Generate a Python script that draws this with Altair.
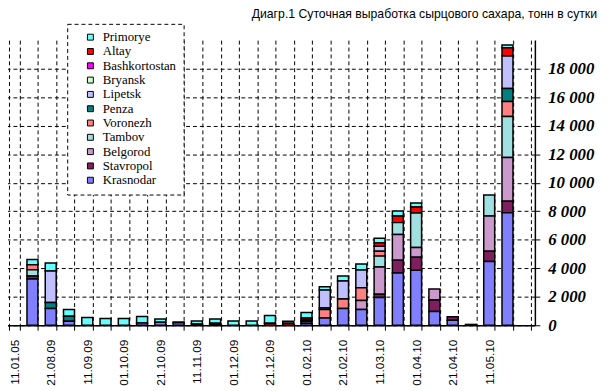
import json
import altair as alt
import pandas as pd

periods = ["11.01.05", "11.08.09", "21.08.09", "01.09.09", "11.09.09", "21.09.09",
           "01.10.09", "11.10.09", "21.10.09", "01.11.09", "11.11.09", "21.11.09",
           "01.12.09", "11.12.09", "21.12.09", "11.01.10", "01.02.10", "11.02.10",
           "21.02.10", "01.03.10", "11.03.10", "21.03.10", "01.04.10", "11.04.10",
           "21.04.10", "01.05.10", "11.05.10", "21.05.10", "01.06.10"]
shown_labels = ["11.01.05", "21.08.09", "11.09.09", "01.10.09", "21.10.09", "11.11.09",
                "01.12.09", "21.12.09", "01.02.10", "21.02.10", "11.03.10", "01.04.10",
                "21.04.10", "11.05.10"]

regions = ["Primorye", "Altay", "Bashkortostan", "Bryansk", "Lipetsk", "Penza",
           "Voronezh", "Tambov", "Belgorod", "Stavropol", "Krasnodar"]
colors = ["#66FFFF", "#FF0000", "#FF00FF", "#CCFFCC", "#C0C0FF", "#008080",
          "#FF8080", "#A0E0E0", "#CC99CC", "#7F1F5F", "#8080FF"]

#            0  1     2     3    4    5    6    7    8    9    10   11   12   13   14   15   16   17   18    19    20    21    22    23   24   25  26    27    28
krasnodar = [0, 3250, 1180, 280, 0,   0,   0,   160, 210, 170, 0,   70,  0,   0,   0,   0,   140, 510, 1180, 1110, 1940, 3670, 3850, 970, 350, 0,  4470, 7890, 0]
stavropol = [0, 210,  0,    0,   0,   0,   0,   0,   0,   60,  0,   0,   0,   0,   0,   0,   0,   0,   0,    0,    230,  900,  920,  810, 250, 60, 720,  810,  0]
belgorod  = [0, 0,    0,    0,   0,   0,   0,   0,   0,   0,   0,   0,   0,   0,   0,   0,   0,   0,   0,    620,  1920, 1800, 690,  760, 0,   0,  2470, 3070, 0]
tambov    = [0, 440,  0,    0,   0,   0,   0,   0,   0,   0,   0,   0,   0,   0,   0,   0,   0,   0,   0,    0,    760,  830,  2420, 0,   0,   0,  1480, 2880, 0]
voronezh  = [0, 350,  0,    0,   0,   0,   0,   0,   0,   0,   0,   0,   0,   0,   0,   0,   0,   600, 660,  900,  350,  0,    0,    0,   0,   0,  0,    1040, 0]
penza     = [0, 0,    420,  350, 0,   0,   0,   0,   0,   0,   90,  0,   0,   0,   0,   0,   0,   110, 0,    0,    0,    0,    0,    0,   0,   0,  0,    920,  0]
lipetsk   = [0, 0,    2210, 0,   0,   0,   0,   0,   0,   0,   0,   70,  0,   0,   0,   0,   140, 1250, 1270, 1250, 350,  0,    0,    0,   0,   0,  0,    2280, 0]
bryansk   = [0, 0,    0,    0,   0,   0,   0,   0,   0,   0,   0,   0,   0,   0,   0,   0,   90,  0,   0,    0,    0,    0,    0,    0,   0,   0,  0,    0,    0]
bashkort  = [0, 0,    0,    0,   0,   0,   0,   0,   0,   0,   0,   0,   0,   0,   0,   0,   0,   0,   0,    0,    0,    0,    0,    0,   0,   0,  0,    0,    0]
altay     = [0, 0,    0,    0,   0,   0,   0,   0,   0,   0,   0,   0,   0,   0,   140, 150, 140, 0,   0,    0,    230,  460,  420,  0,   0,   0,  0,    580,  0]
primorye  = [0, 370,  550,  480, 550, 480, 480, 460, 230, 0,   210, 300, 300, 300, 550, 130, 390, 230, 350,  420,  320,  350,  280,  0,   0,   0,  0,    190,  0]

series = {
    "Primorye": primorye, "Altay": altay, "Bashkortostan": bashkort,
    "Bryansk": bryansk, "Lipetsk": lipetsk, "Penza": penza,
    "Voronezh": voronezh, "Tambov": tambov, "Belgorod": belgorod,
    "Stavropol": stavropol, "Krasnodar": krasnodar,
}

rows = []
for r_i, r in enumerate(regions):
    for p_i, p in enumerate(periods):
        v = series[r][p_i]
        if v > 0:
            rows.append({"period": p, "region": r, "value": v,
                         "stack": len(regions) - 1 - r_i})
df = pd.DataFrame(rows)

x_label_expr = "indexof(" + json.dumps(shown_labels) + ", datum.value) >= 0 ? datum.value : ''"

chart = alt.Chart(df).mark_bar(stroke="black", strokeWidth=1.5).encode(
    x=alt.X("period:N", sort=periods,
            scale=alt.Scale(domain=periods, paddingInner=0.4, paddingOuter=0.2),
            axis=alt.Axis(title=None, labelAngle=-90, labelExpr=x_label_expr,
                          labelOverlap=False, tickBand="extent", grid=True,
                          gridColor="black", gridDash=[4, 3], gridWidth=1,
                          ticks=True, tickSize=5, tickColor="black",
                          domainColor="black", domainWidth=1.5,
                          labelFont="Liberation Sans", labelFontSize=12,
                          labelColor="black", labelPadding=9)),
    y=alt.Y("value:Q", stack="zero",
            scale=alt.Scale(domain=[0, 20000], nice=False),
            axis=alt.Axis(title=None, orient="right",
                          values=list(range(0, 18001, 2000)),
                          labelExpr="replace(format(datum.value, ','), ',', ' ')",
                          grid=True, gridColor="black", gridDash=[4, 3], gridWidth=1,
                          tickColor="black", tickSize=5, domainColor="black",
                          domainWidth=1.5,
                          labelFont="Liberation Serif", labelFontSize=17,
                          labelFontStyle="italic", labelFontWeight="bold",
                          labelColor="black", labelPadding=8)),
    color=alt.Color("region:N", scale=alt.Scale(domain=regions, range=colors),
                    legend=alt.Legend(title=None, orient="none", legendX=63, legendY=-16.5,
                                      fillColor="white", strokeColor="black",
                                      padding=7, symbolOffset=10,
                                      symbolType="square", symbolSize=36,
                                      symbolStrokeColor="black", symbolStrokeWidth=1,
                                      labelFont="Liberation Serif", labelFontSize=13,
                                      labelFontWeight="normal", labelOffset=6,
                                      labelColor="black", rowPadding=0.5)),
    order=alt.Order("stack:Q", sort="ascending"),
).properties(
    width=537, height=289,
    autosize="none",
    padding={"left": -3, "top": 30, "right": 66, "bottom": 60},
    title=alt.Title("Диагр.1 Суточная выработка сырцового сахара, тонн в сутки",
                    anchor="end", frame="group", dx=63, dy=14, offset=7,
                    baseline="alphabetic", font="Liberation Sans", fontSize=12.4,
                    fontWeight="normal", color="black"),
).configure_view(stroke=None).configure_legend(strokeDash=[4, 3], strokeWidth=1)

chart.save("out.html", embed_options={"renderer": "svg", "actions": False})
